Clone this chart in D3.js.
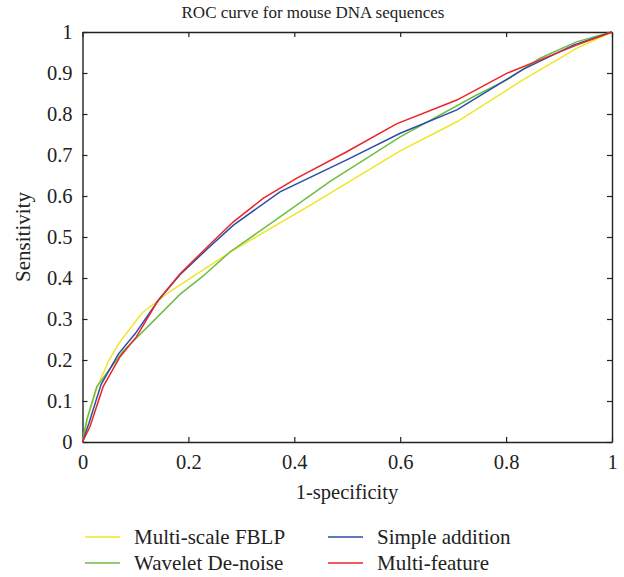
<!DOCTYPE html>
<html>
<head>
<meta charset="utf-8">
<script src="https://cdn.jsdelivr.net/npm/d3@7"></script>
<style>
  body { margin: 0; background: #ffffff; }
  svg, svg text { font-family: "Liberation Serif", "DejaVu Serif", serif; }
  .tick text { fill: #222; }
</style>
</head>
<body>
<script>
// ROC points [1-specificity, sensitivity]
var fblpPoints = [[0,0],[0.01,0.06],[0.027,0.131],[0.05,0.2],[0.071,0.245],[0.112,0.314],
  [0.165,0.367],[0.228,0.42],[0.285,0.468],[0.436,0.582],[0.6,0.71],[0.707,0.781],
  [0.832,0.883],[0.933,0.96],[1,1]];
var waveletPoints = [[0,0],[0.008,0.054],[0.027,0.135],[0.077,0.222],[0.13,0.29],[0.184,0.36],
  [0.228,0.405],[0.279,0.464],[0.373,0.549],[0.467,0.635],[0.6,0.744],[0.738,0.842],
  [0.801,0.883],[0.864,0.936],[0.933,0.976],[0.971,0.99],[1,1]];
var additionPoints = [[0,0],[0.012,0.045],[0.035,0.14],[0.068,0.215],[0.1,0.265],[0.143,0.345],
  [0.184,0.408],[0.235,0.47],[0.285,0.529],[0.373,0.61],[0.499,0.688],[0.6,0.753],
  [0.707,0.81],[0.832,0.909],[0.927,0.968],[1,1]];
var featurePoints = [[0,0],[0.014,0.037],[0.039,0.135],[0.071,0.208],[0.102,0.257],[0.143,0.346],
  [0.184,0.41],[0.235,0.475],[0.285,0.537],[0.341,0.594],[0.404,0.643],[0.499,0.708],
  [0.593,0.776],[0.707,0.834],[0.801,0.899],[0.864,0.932],[0.933,0.968],[1,1]];

var seriesNames = ["Multi-scale FBLP", "Wavelet De-noise", "Simple addition", "Multi-feature"];
var seriesColours = ["#efe625", "#6cbd45", "#2b4ea6", "#ec2426"];
var xTicks = [0, 0.2, 0.4, 0.6, 0.8, 1];
var yTicks = [0, 0.1, 0.2, 0.3, 0.4, 0.5, 0.6, 0.7, 0.8, 0.9, 1];

var series = [fblpPoints, waveletPoints, additionPoints, featurePoints].map(function(pts, i){
    return {name: seriesNames[i], colour: seriesColours[i], points: pts};
});

var width = 624, height = 577;
var pad = {left: 82.5, right: 12, top: 32, bottom: 135};
var serif = "'Liberation Serif', 'DejaVu Serif', serif";

var svg = d3.select("body")
            .append("svg")
            .attr("width", width)
            .attr("height", height);

var xScale = d3.scaleLinear().domain([0, 1]).range([pad.left, width - pad.right]);
var yScale = d3.scaleLinear().domain([0, 1]).range([height - pad.bottom, pad.top]);

var fmt = function(d){ return d === 0 || d === 1 ? String(d) : d3.format(".1f")(d); };

// axes, ticks pointing inwards on all four sides
svg.append("g")
   .attr("transform", "translate(0," + yScale(0) + ")")
   .call(d3.axisBottom(xScale).tickValues(xTicks).tickSizeInner(-5).tickSizeOuter(0)
           .tickPadding(12).tickFormat(fmt));
svg.append("g")
   .attr("transform", "translate(0," + yScale(1) + ")")
   .call(d3.axisTop(xScale).tickValues(xTicks).tickSizeInner(-5).tickSizeOuter(0)
           .tickFormat(""));
svg.append("g")
   .attr("transform", "translate(" + xScale(0) + ",0)")
   .call(d3.axisLeft(yScale).tickValues(yTicks).tickSizeInner(-5).tickSizeOuter(0)
           .tickPadding(10).tickFormat(fmt));
svg.append("g")
   .attr("transform", "translate(" + xScale(1) + ",0)")
   .call(d3.axisRight(yScale).tickValues(yTicks).tickSizeInner(-5).tickSizeOuter(0)
           .tickFormat(""));

// d3 puts sans-serif on each axis group, switch it back
svg.selectAll("g").attr("font-family", serif).attr("font-size", 20.5);
svg.selectAll(".domain").attr("stroke", "#222").attr("stroke-width", 1.4);
svg.selectAll(".tick line").attr("stroke", "#222").attr("stroke-width", 1.2);

// curves
var line = d3.line()
             .x(function(d){ return xScale(d[0]); })
             .y(function(d){ return yScale(d[1]); });

svg.append("g")
   .selectAll("path")
   .data(series).enter()
   .append("path")
   .attr("d", function(d){ return line(d.points); })
   .attr("fill", "none")
   .attr("stroke", function(d){ return d.colour; })
   .attr("stroke-width", 1.5);

// title and axis labels
svg.append("text")
   .attr("x", 313).attr("y", 18)
   .attr("text-anchor", "middle")
   .style("font-size", "17px").style("fill", "#222")
   .text("ROC curve for mouse DNA sequences");

svg.append("text")
   .attr("x", 347).attr("y", 499)
   .attr("text-anchor", "middle")
   .style("font-size", "20.5px").style("fill", "#222")
   .text("1-specificity");

svg.append("text")
   .attr("transform", "rotate(-90)")
   .attr("x", -237).attr("y", 30)
   .attr("text-anchor", "middle")
   .style("font-size", "21px").style("fill", "#222")
   .text("Sensitivity");

// legend, two columns
var legend = svg.append("g")
                .selectAll("g")
                .data(series).enter()
                .append("g")
                .attr("transform", function(d, i){
                    var col = i < 2 ? 0 : 1, row = i % 2;
                    return "translate(" + (85 + col * 243) + "," + (537 + row * 26) + ")";
                });
legend.append("line")
      .attr("x1", 0).attr("x2", 35)
      .attr("stroke", function(d){ return d.colour; })
      .attr("stroke-width", 1.5);
legend.append("text")
      .attr("x", 49).attr("dy", "0.35em")
      .style("font-size", "21px").style("fill", "#222")
      .text(function(d){ return d.name; });
</script>
</body>
</html>
